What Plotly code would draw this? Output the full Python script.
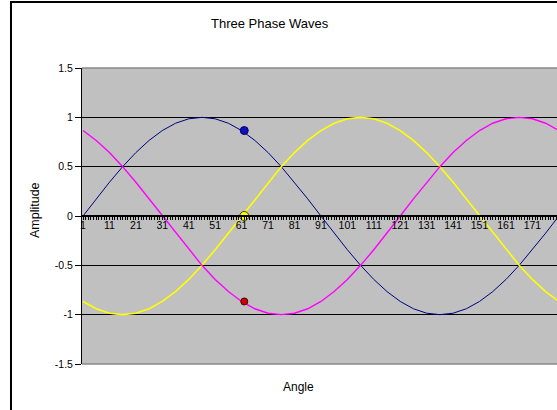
import plotly.graph_objects as go

categories = list(range(1, 182, 5))  # 1, 6, 11, ... 181
phase_a = [0, .174, .342, .5, .643, .766, .866, .94, .985, 1, .985, .94, .866, .766, .643, .5, .342, .174, 0,
           -.174, -.342, -.5, -.643, -.766, -.866, -.94, -.985, -1, -.985, -.94, -.866, -.766, -.643, -.5, -.342, -.174, 0]
phase_b = [-.866, -.94, -.985, -1, -.985, -.94, -.866, -.766, -.643, -.5, -.342, -.174, 0, .174, .342, .5, .643, .766, .866,
           .94, .985, 1, .985, .94, .866, .766, .643, .5, .342, .174, 0, -.174, -.342, -.5, -.643, -.766, -.866]
phase_c = [.866, .766, .643, .5, .342, .174, 0, -.174, -.342, -.5, -.643, -.766, -.866, -.94, -.985, -1, -.985, -.94, -.866,
           -.766, -.643, -.5, -.342, -.174, 0, .174, .342, .5, .643, .766, .866, .94, .985, 1, .985, .94, .866]

marker_x = 62
marker_a = 0.866
marker_b = 0.0
marker_c = -0.866

tick_vals = list(range(1, 182, 10))
tick_text = ["1", "11", "21", "31", "41", "51", "61", "71", "81", "91", "101",
             "111", "121", "131", "141", "151", "161", "171", "181"]
y_ticks = [-1.5, -1, -0.5, 0, 0.5, 1, 1.5]
y_text = ["-1.5", "-1", "-0.5", "0", "0.5", "1", "1.5"]

FONT = "Liberation Sans, Arial, sans-serif"

fig = go.Figure()
fig.add_trace(go.Scatter(x=categories, y=phase_a, mode="lines",
                         line=dict(color="#000080", width=1), showlegend=False))
fig.add_trace(go.Scatter(x=categories, y=phase_b, mode="lines",
                         line=dict(color="#FFFF00", width=1.6), showlegend=False))
fig.add_trace(go.Scatter(x=categories, y=phase_c, mode="lines",
                         line=dict(color="#FF00FF", width=1.4), showlegend=False))

fig.add_trace(go.Scatter(x=[marker_x], y=[marker_a], mode="markers",
                         marker=dict(color="#1010C0", size=8, line=dict(color="#000060", width=1)),
                         showlegend=False))
fig.add_trace(go.Scatter(x=[marker_x], y=[marker_b], mode="markers",
                         marker=dict(color="#FFFF00", size=9, line=dict(color="#404000", width=1)),
                         showlegend=False))
fig.add_trace(go.Scatter(x=[marker_x], y=[marker_c], mode="markers",
                         marker=dict(color="#D00000", size=7, line=dict(color="#400000", width=1)),
                         showlegend=False))

fig.update_layout(
    width=557, height=410,
    margin=dict(l=82, r=0, t=68, b=46, autoexpand=False),
    paper_bgcolor="white",
    plot_bgcolor="#C0C0C0",
    font=dict(family=FONT, color="black"),
    xaxis=dict(
        range=[0.62, 180.3],
        anchor="free", position=0.5, automargin=False,
        tickmode="array", tickvals=tick_vals, ticktext=tick_text,
        ticks="outside", ticklen=3, tickwidth=1, tickcolor="black",
        ticklabelstandoff=-4,
        minor=dict(dtick=1, tick0=1, ticks="outside", ticklen=3, tickwidth=1, tickcolor="black", showgrid=False),
        showline=True, linecolor="black", linewidth=2,
        showgrid=False, zeroline=False,
        tickfont=dict(size=10.5, family=FONT, color="black"),
    ),
    yaxis=dict(
        range=[-1.5, 1.5], automargin=False,
        tickmode="array", tickvals=y_ticks, ticktext=y_text,
        ticks="outside", ticklen=6, tickwidth=1, tickcolor="black",
        showline=True, linecolor="black", linewidth=1,
        showgrid=True, gridcolor="black", gridwidth=1,
        zeroline=False,
        tickfont=dict(size=10.5, family=FONT, color="black"),
    ),
    shapes=[
        dict(type="line", xref="paper", yref="paper", x0=0, x1=1, y0=1, y1=1,
             line=dict(color="#8a8a8a", width=1.5)),
        dict(type="line", xref="paper", yref="paper", x0=0, x1=1, y0=0, y1=0,
             line=dict(color="#8a8a8a", width=1.5)),
        dict(type="rect", xref="paper", yref="paper", x0=-0.1495, x1=1.2, y0=-0.3, y1=1.223,
             line=dict(color="black", width=2), fillcolor="rgba(0,0,0,0)"),
    ],
    annotations=[
        dict(text="Three Phase Waves", xref="paper", yref="paper", x=0.396, y=1.152,
             showarrow=False, xanchor="center", yanchor="middle",
             font=dict(size=13, family=FONT, color="black")),
        dict(text="Angle", xref="paper", yref="paper", x=0.455, y=-0.0777,
             showarrow=False, xanchor="center", yanchor="middle",
             font=dict(size=12, family=FONT, color="black")),
        dict(text="Amplitude", xref="paper", yref="paper", x=-0.099, y=0.52,
             showarrow=False, xanchor="center", yanchor="middle", textangle=-90,
             font=dict(size=12.5, family=FONT, color="black")),
    ],
)

fig.write_html(
    "out.html",
    config={"displayModeBar": False, "staticPlot": True},
    post_script="document.body.style.margin='0';document.body.style.overflow='hidden';",
)
